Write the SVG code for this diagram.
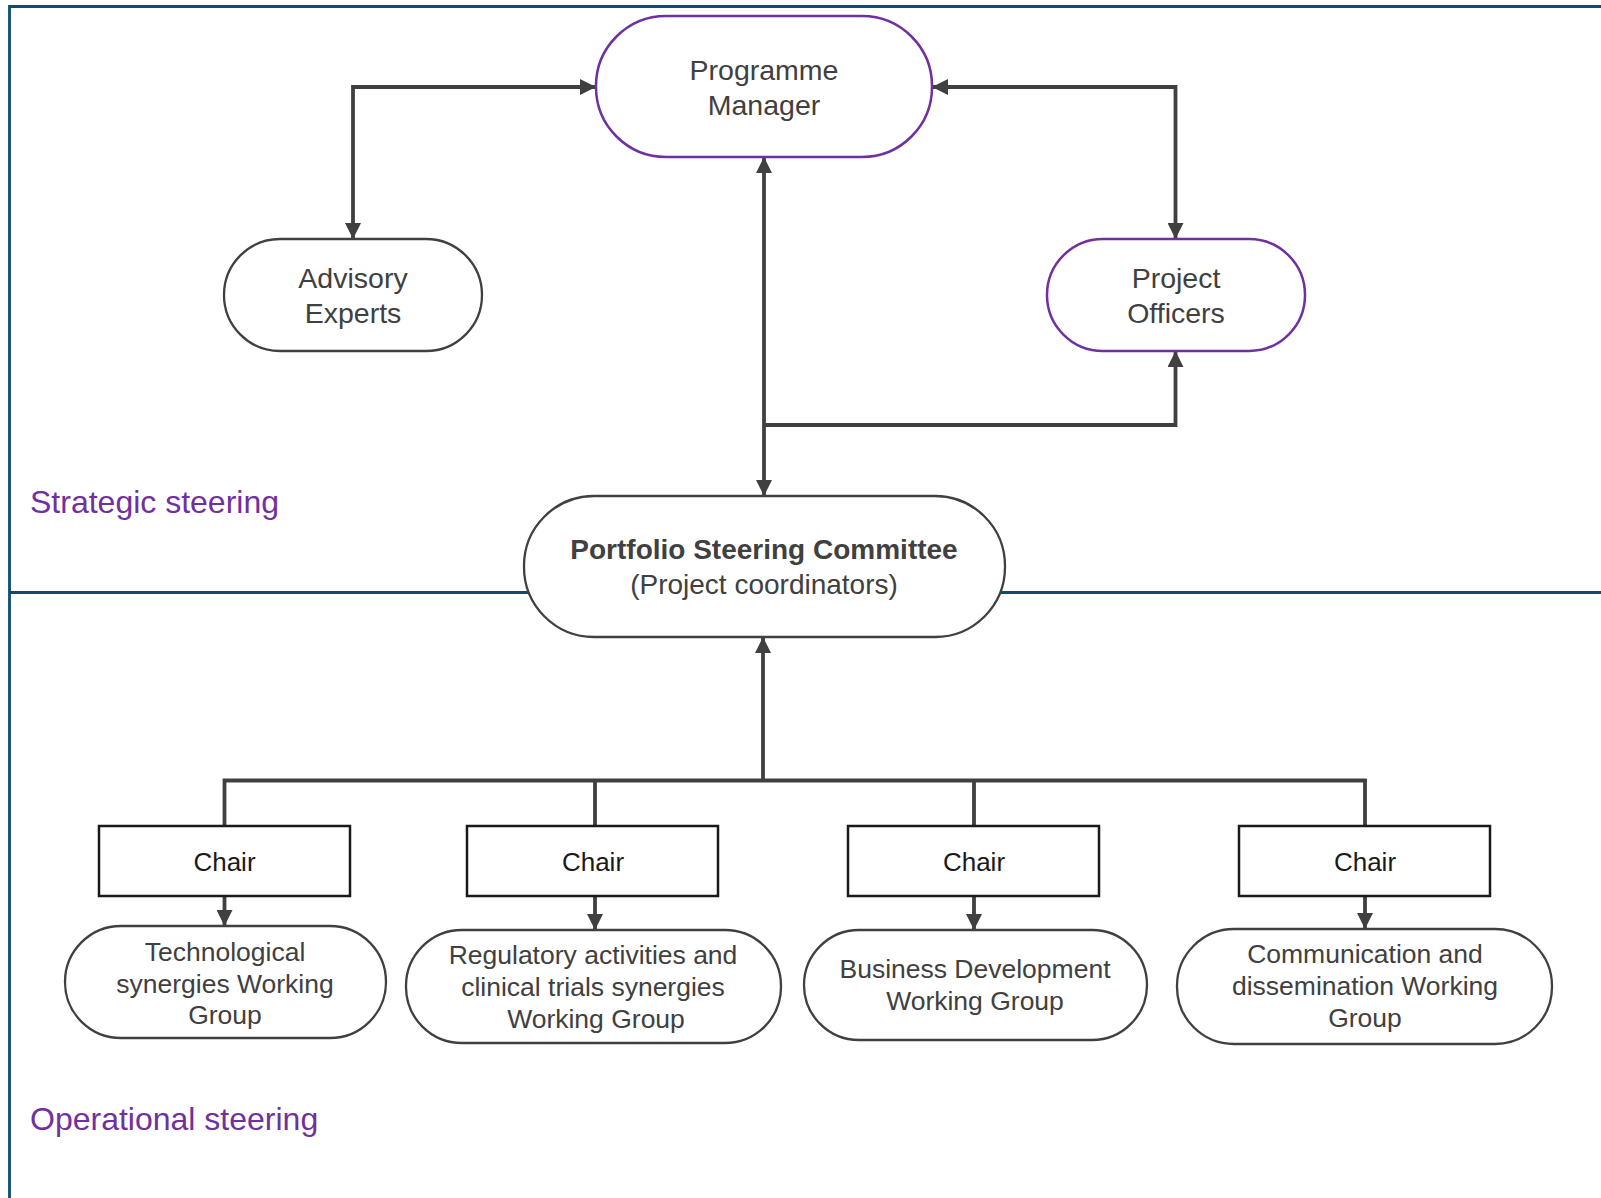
<svg xmlns="http://www.w3.org/2000/svg" width="1601" height="1198" viewBox="0 0 1601 1198">
<style>
.frame{fill:none;stroke:#0f4c6b;stroke-width:2.8}
.node{fill:#fff;stroke:#404040;stroke-width:2.3}
.pnode{fill:#fff;stroke:#7030a0;stroke-width:2.5}
.chair{fill:#fff;stroke:#1a1a1a;stroke-width:2.5}
.conn{fill:none;stroke:#404040;stroke-width:3.8}
.t{font-family:"Liberation Sans",Arial,sans-serif;fill:#404040;text-anchor:middle}
.big{font-size:28.5px}
.wg{font-size:26.5px}
.ct{font-size:26px;fill:#1a1a1a}
.sec{font-family:"Liberation Sans",Arial,sans-serif;font-size:32px;fill:#7030a0}
</style>
<defs>
<marker id="ah" viewBox="0 0 10 10" refX="10" refY="5" markerWidth="16" markerHeight="16" markerUnits="userSpaceOnUse" orient="auto-start-reverse">
<path d="M0,0 L10,5 L0,10 z" fill="#404040"/>
</marker>
</defs>
<rect width="1601" height="1198" fill="#fff"/>
<g id="frame">
<path class="frame" d="M1601,6.5 L9.5,6.5 L9.5,1198"/>
<path class="frame" d="M9.5,592.5 L1601,592.5"/>
</g>
<g id="labels">
<text class="sec" x="30" y="513">Strategic steering</text>
<text class="sec" x="30" y="1130">Operational steering</text>
</g>
<g id="connectors">
<path class="conn" d="M353,239 L353,87 L596,87" marker-start="url(#ah)" marker-end="url(#ah)"/>
<path class="conn" d="M932,87 L1175.5,87 L1175.5,239" marker-start="url(#ah)" marker-end="url(#ah)"/>
<path class="conn" d="M764,157 L764,496" marker-start="url(#ah)" marker-end="url(#ah)"/>
<path class="conn" d="M764,425 L1175.5,425 L1175.5,351" marker-end="url(#ah)"/>
<path class="conn" d="M224.5,826 L224.5,780.5 L1365,780.5 L1365,826"/>
<path class="conn" d="M595,780.5 L595,826"/>
<path class="conn" d="M974,780.5 L974,826"/>
<path class="conn" d="M763,780.5 L763,637" marker-end="url(#ah)"/>
<path class="conn" d="M224.5,896 L224.5,926" marker-end="url(#ah)"/>
<path class="conn" d="M595,896 L595,930" marker-end="url(#ah)"/>
<path class="conn" d="M974,896 L974,930" marker-end="url(#ah)"/>
<path class="conn" d="M1365,896 L1365,929" marker-end="url(#ah)"/>
</g>
<g id="programme-manager">
<rect class="pnode" x="596" y="16" width="336" height="141" rx="70" ry="70"/>
<text class="t big" x="764" y="80">Programme</text>
<text class="t big" x="764" y="115">Manager</text>
</g>
<g id="advisory-experts">
<rect class="node" x="224" y="239" width="258" height="112" rx="56" ry="56"/>
<text class="t big" x="353" y="288">Advisory</text>
<text class="t big" x="353" y="323">Experts</text>
</g>
<g id="project-officers">
<rect class="pnode" x="1047" y="239" width="258" height="112" rx="56" ry="56"/>
<text class="t big" x="1176" y="288">Project</text>
<text class="t big" x="1176" y="323">Officers</text>
</g>
<g id="portfolio-steering-committee">
<rect class="node" x="524" y="496" width="481" height="141" rx="70" ry="70"/>
<text class="t" x="764" y="559" font-size="28" font-weight="bold">Portfolio Steering Committee</text>
<text class="t" x="764" y="594" font-size="28">(Project coordinators)</text>
</g>
<g id="chair-1">
<rect class="chair" x="99" y="826" width="251" height="70"/>
<text class="t ct" x="224.5" y="871">Chair</text>
</g>
<g id="chair-2">
<rect class="chair" x="467" y="826" width="251" height="70"/>
<text class="t ct" x="593" y="871">Chair</text>
</g>
<g id="chair-3">
<rect class="chair" x="848" y="826" width="251" height="70"/>
<text class="t ct" x="974" y="871">Chair</text>
</g>
<g id="chair-4">
<rect class="chair" x="1239" y="826" width="251" height="70"/>
<text class="t ct" x="1365" y="871">Chair</text>
</g>
<g id="wg-technological">
<rect class="node" x="65" y="926" width="321" height="112" rx="56" ry="56"/>
<text class="t wg" x="225" y="961">Technological</text>
<text class="t wg" x="225" y="993">synergies Working</text>
<text class="t wg" x="225" y="1024">Group</text>
</g>
<g id="wg-regulatory">
<rect class="node" x="406" y="930" width="375" height="113" rx="56" ry="56"/>
<text class="t wg" x="593" y="964">Regulatory activities and</text>
<text class="t wg" x="593" y="996">clinical trials synergies</text>
<text class="t wg" x="596" y="1028">Working Group</text>
</g>
<g id="wg-business">
<rect class="node" x="804" y="930" width="343" height="110" rx="55" ry="55"/>
<text class="t wg" x="975" y="978">Business Development</text>
<text class="t wg" x="975" y="1010">Working Group</text>
</g>
<g id="wg-communication">
<rect class="node" x="1177" y="929" width="375" height="115" rx="57" ry="57"/>
<text class="t wg" x="1365" y="963">Communication and</text>
<text class="t wg" x="1365" y="995">dissemination Working</text>
<text class="t wg" x="1365" y="1027">Group</text>
</g>
</svg>
